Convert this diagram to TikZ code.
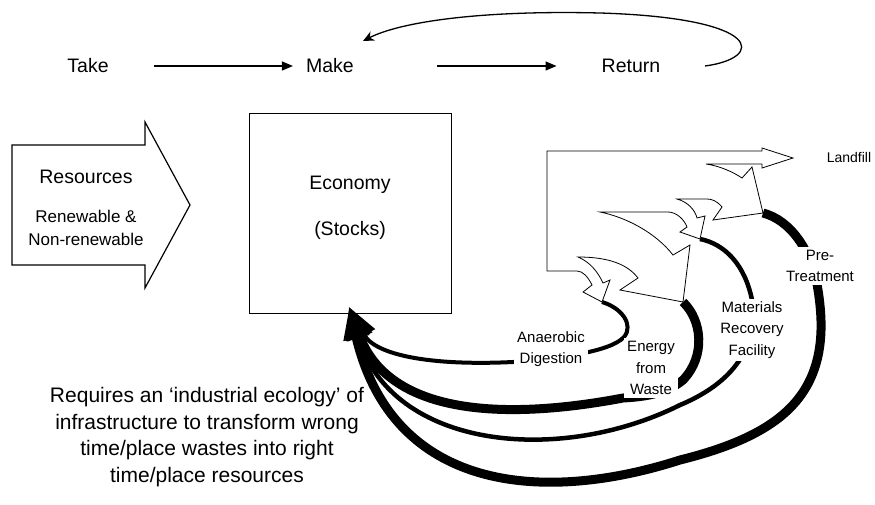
\documentclass[tikz,border=0pt]{standalone}
\usepackage{fontspec}
\setmainfont{Liberation Sans}
\usetikzlibrary{arrows.meta}
\begin{document}
\begin{tikzpicture}[x=1pt,y=-1pt,
  big/.style={font=\fontsize{19.5}{23}\selectfont, inner sep=0pt},
  mid/.style={font=\fontsize{17}{23}\selectfont, inner sep=0pt, align=center},
  small/.style={font=\fontsize{15}{21.5}\selectfont, align=center, fill=white, inner sep=3pt},
  flow/.style={line width=1.3pt,-{Triangle[length=11pt,width=9pt]}},
  outline/.style={line width=0.8pt, fill=white, line join=miter},
  back/.style={line cap=butt, -{Triangle[length=32pt,width=24pt]}},
]
\useasboundingbox (0,0) rectangle (875,504);

% top row
\node[big] (take) at (88,66) {Take};
\node[big] (make) at (330,66) {Make};
\node[big] (ret) at (631,66) {Return};
\draw[flow, shorten <=45pt, shorten >=13pt] (take.east) -- (make.west);
\draw[flow, shorten <=83pt, shorten >=45pt] (make.east) -- (ret.west);
\coordinate (loopstart) at (705,66);
\coordinate (loopend) at (363,41);
\draw[line width=1.3pt, -{Stealth[length=11pt,width=10pt]}] (loopstart)
  .. controls (765,58) and (765,18) .. (600,13)
  .. controls (480,10) and (400,22) .. (loopend);

% resources arrow
\draw[line width=1.2pt, fill=white] (12,145) -- (145,145) -- (145,122) -- (190,205)
  -- (145,288) -- (145,265) -- (12,265) -- cycle;
\node[big] (res) at (86,177) {Resources};
\node[mid] (ren) at (86,228) {Renewable \&\\Non-renewable};

% economy
\node[draw, line width=1pt, minimum width=202pt, minimum height=200pt, inner sep=0pt] (econbox) at (350,213) {};
\node[big] (eco) at (350,185) {Economy};
\node[big] (stk) at (350,230) {(Stocks)};
\coordinate (econ) at (349,307);

% tips of the branch arrows
\coordinate (tipAD) at (602,302);
\coordinate (tipEW) at (683,302);
\coordinate (tipMR) at (700,239);
\coordinate (tipPT) at (763,213);

% return flows
\draw[back, line width=4pt] (tipAD) .. controls (622,308) and (634,325) .. (624,337)
  .. controls (610,352) and (560,358) .. (513,362)
  .. controls (430,366) and (375,355) .. (econ);
\draw[back, line width=9pt] (tipEW) .. controls (702,320) and (706,356) .. (683,380)
  .. controls (665,395) and (640,397) .. (623,398)
  .. controls (480,425) and (385,405) .. (econ);
\draw[back, line width=4.5pt] (tipMR) .. controls (725,244) and (745,265) .. (752,300)
  .. controls (758,340) and (740,380) .. (680,405)
  .. controls (560,465) and (392,450) .. (econ);
\draw[back, line width=9pt] (tipPT) .. controls (790,220) and (812,250) .. (818,290)
  .. controls (826,340) and (820,385) .. (780,417)
  .. controls (755,437) and (720,450) .. (680,460)
  .. controls (540,505) and (392,490) .. (econ);

% branching hollow arrows
\draw[outline]
 (547,271) -- (547,151) -- (762,151) -- (762,148) -- (793,158) -- (762,168) -- (762,164) -- (706,164)
 .. controls (720,166) and (733,172) .. (742,178) -- (752,167) -- (tipPT) -- (713,220) -- (722,207)
 .. controls (717,201) and (712,199) .. (707,199) -- (677,199)
 .. controls (688,202) and (695,210) .. (697,218) -- (705,216) -- (tipMR) -- (680,232) -- (687,227)
 .. controls (684,219) and (676,212) .. (668,212) -- (600,212)
 .. controls (625,217) and (655,232) .. (673,255) -- (690,245) -- (tipEW) -- (620,290) -- (638,278)
 .. controls (628,265) and (610,257) .. (578,257)
 .. controls (590,262) and (598,272) .. (603,283) -- (610,280) -- (tipAD) -- (583,292) -- (592,285)
 .. controls (588,277) and (583,271) .. (577,271) -- cycle;

% labels
\node[font=\fontsize{14}{17}\selectfont, inner sep=0pt] (lf) at (849,157) {Landfill};
\node[small] (ad) at (551,349) {Anaerobic\\Digestion};
\node[small] (ew) at (651,368) {Energy\\from\\Waste};
\node[small] (mr) at (752,330) {Materials\\Recovery\\Facility};
\node[small] (pt) at (820,266) {Pre-\\Treatment};

% bottom text
\node[font=\fontsize{21}{26.5}\selectfont, align=center, inner sep=0pt] (req) at (207,437)
 {Requires an ‘industrial ecology’ of\\infrastructure to transform wrong\\time/place wastes into right\\time/place resources};
\end{tikzpicture}
\end{document}
